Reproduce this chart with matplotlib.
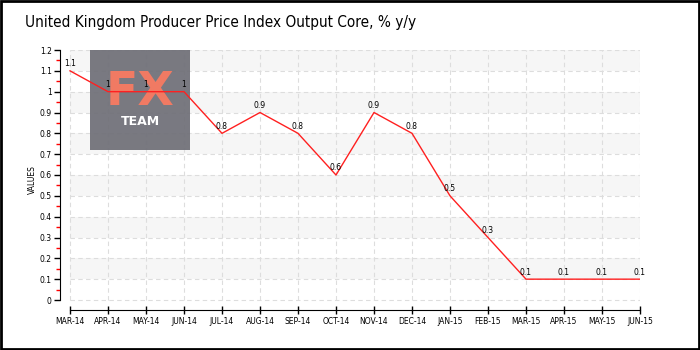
import matplotlib
matplotlib.use("Agg")
import matplotlib.pyplot as plt
from matplotlib.patches import Rectangle
import numpy as np

# data
months = ["MAR-14", "APR-14", "MAY-14", "JUN-14", "JUL-14", "AUG-14", "SEP-14", "OCT-14",
          "NOV-14", "DEC-14", "JAN-15", "FEB-15", "MAR-15", "APR-15", "MAY-15", "JUN-15"]
values = [1.1, 1, 1, 1, 0.8, 0.9, 0.8, 0.6, 0.9, 0.8, 0.5, 0.3, 0.1, 0.1, 0.1, 0.1]
y_ticks = [0, 0.1, 0.2, 0.3, 0.4, 0.5, 0.6, 0.7, 0.8, 0.9, 1, 1.1, 1.2]
y_labels = ["0", "0.1", "0.2", "0.3", "0.4", "0.5", "0.6", "0.7", "0.8", "0.9", "1", "1.1", "1.2"]

fig = plt.figure(figsize=(7, 3.5), dpi=100)
fig.patches.append(Rectangle((0.001, 0.002), 0.997, 0.995, transform=fig.transFigure,
                             fill=False, edgecolor="black", linewidth=2))

ax = fig.add_axes([60 / 700, 40 / 350, 580 / 700, 260 / 350])
x = np.arange(len(months))
n = len(months) - 1
ax.set_xlim(-10 / 38, n)
ax.set_ylim(-0.048, 1.2)

# alternating bands
for i in range(0, 12, 2):
    y0 = y_ticks[i + 1]
    ax.add_patch(Rectangle((0, y0), n, 0.1, facecolor="#f6f6f6", edgecolor="none", zorder=0))

# grid
for yv in y_ticks:
    ax.plot([0, n], [yv, yv], color="#dddddd", lw=0.8, ls=(0, (4, 3)), zorder=1)
for xv in x:
    ax.plot([xv, xv], [0, 1.2], color="#dddddd", lw=0.8, ls=(0, (4, 3)), zorder=1)

# logo box
bx = 20 / 38
ax.add_patch(Rectangle((bx, 0.72), 100 / 38, 0.48, facecolor="#6e6e76", alpha=0.92,
                       edgecolor="none", zorder=2))
ax.text(bx + 50 / 38, 0.995, "FX", color="#f07a63", fontsize=34, fontweight="bold",
        ha="center", va="center", zorder=2)
ax.text(bx + 50 / 38, 0.855, "TEAM", color="white", fontsize=9, fontweight="bold",
        ha="center", va="center", zorder=2)

ax.plot(x, values, color="#ff2020", lw=1, zorder=4)
for xi, v in zip(x, values):
    ax.text(xi, v + 0.012, f"{v:g}", fontsize=5.5, ha="center", va="bottom", zorder=5)

ax.set_xticks(x)
ax.set_xticklabels(months, fontsize=5.5)
ax.set_yticks(y_ticks)
ax.set_yticklabels(y_labels, fontsize=5.5)
ax.set_yticks(np.arange(0.05, 1.2, 0.1), minor=True)
ax.tick_params(axis="x", direction="inout", length=6, width=1, pad=2)
ax.tick_params(axis="y", which="major", direction="out", length=4, width=1, pad=2)
ax.tick_params(axis="y", which="minor", direction="out", length=3, width=1, color="red")

for s in ["top", "right"]:
    ax.spines[s].set_visible(False)
ax.spines["bottom"].set_bounds(0, n)
ax.spines["left"].set_bounds(0, 1.2)
ax.set_ylabel("VALUES", fontsize=5.5, labelpad=2)

fig.text(25 / 700, 1 - 23 / 350, "United Kingdom Producer Price Index Output Core, % y/y",
         fontsize=11, family="DejaVu Sans", fontstretch="condensed", va="center", ha="left")

fig.savefig("out.png", dpi=100)
